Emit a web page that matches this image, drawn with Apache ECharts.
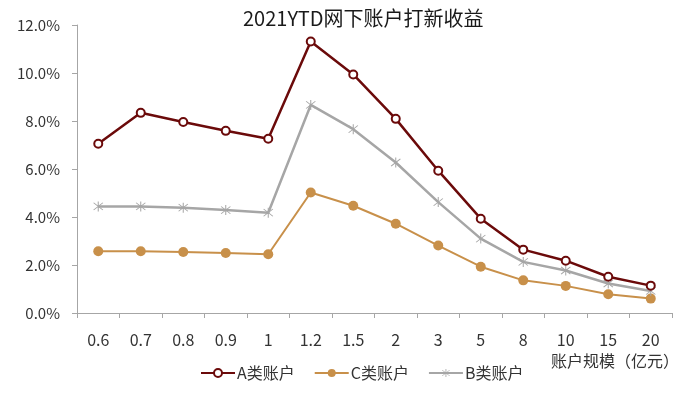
<!DOCTYPE html>
<html><head><meta charset="utf-8">
<script src="https://cdn.jsdelivr.net/npm/echarts@6/dist/echarts.min.js"></script>
<style>html,body{margin:0;padding:0;background:#fff}#c{width:700px;height:394px}</style>
</head><body><div id="c"></div>
<script>
const categories = ['0.6','0.7','0.8','0.9','1','1.2','1.5','2','3','5','8','10','15','20'];
const seriesA = [7.05, 8.34, 7.96, 7.59, 7.26, 11.31, 9.94, 8.09, 5.93, 3.93, 2.64, 2.18, 1.51, 1.14];
const seriesC = [2.57, 2.57, 2.54, 2.50, 2.45, 5.02, 4.47, 3.72, 2.81, 1.93, 1.36, 1.13, 0.78, 0.60];
const seriesB = [4.44, 4.44, 4.39, 4.29, 4.18, 8.67, 7.66, 6.27, 4.62, 3.10, 2.13, 1.77, 1.23, 0.92];
const seriesNames = ['A类账户', 'C类账户', 'B类账户'];
const titleText = '2021YTD网下账户打新收益';
const xAxisName = '账户规模（亿元）';

const FONT = '"Noto Sans CJK SC", "Noto Sans", sans-serif';
const asterisk = 'path://M9.2,0 L10.8,0 L10.8,20 L9.2,20 Z M2.2,3.3 L3.3,2.2 L17.8,16.7 L16.7,17.8 Z M16.7,2.2 L17.8,3.3 L3.3,17.8 L2.2,16.7 Z';

const chart = echarts.init(document.getElementById('c'), null, {renderer: 'canvas'});
chart.setOption({
  animation: false,
  backgroundColor: '#fff',
  textStyle: {fontFamily: FONT},
  title: {
    text: titleText, left: 238, top: 3,
    textStyle: {fontFamily: FONT, fontSize: 20, fontWeight: 'normal', color: '#1a1a1a'}
  },
  grid: {left: 77, right: 28, top: 25, bottom: 81, containLabel: false},
  legend: {
    data: seriesNames,
    bottom: 8, left: 195,
    itemWidth: 34, itemHeight: 10, itemGap: 19,
    textStyle: {fontFamily: FONT, fontSize: 16, color: '#333', padding: [0, 0, 0, -3]}
  },
  xAxis: {
    type: 'category', data: categories, boundaryGap: true,
    name: xAxisName, nameLocation: 'end', nameGap: 7,
    nameTextStyle: {fontFamily: FONT, fontSize: 16, color: '#333', align: 'right', verticalAlign: 'top', padding: [40, 0, 0, 0]},
    axisLine: {lineStyle: {color: '#a6a6a6', width: 1}},
    axisTick: {show: true, alignWithLabel: false, length: 5, lineStyle: {color: '#a6a6a6'}},
    axisLabel: {fontFamily: FONT, fontSize: 16, color: '#333', margin: 19}
  },
  yAxis: {
    type: 'value', min: 0, max: 12, interval: 2,
    axisLine: {show: true, lineStyle: {color: '#a6a6a6', width: 1}},
    axisTick: {show: true, length: 5, lineStyle: {color: '#a6a6a6'}},
    splitLine: {show: false},
    axisLabel: {fontFamily: FONT, fontSize: 15, color: '#333', margin: 17,
      formatter: v => v.toFixed(1) + '%'}
  },
  series: [
    {name: seriesNames[0], type: 'line', data: seriesA, z: 4,
     symbol: 'emptyCircle', symbolSize: 8,
     lineStyle: {color: '#6b0a0a', width: 2.5},
     itemStyle: {color: '#6b0a0a', borderColor: '#6b0a0a', borderWidth: 1.5}},
    {name: seriesNames[1], type: 'line', data: seriesC, z: 2,
     symbol: 'circle', symbolSize: 10,
     lineStyle: {color: '#c8904a', width: 2},
     itemStyle: {color: '#c8904a'}},
    {name: seriesNames[2], type: 'line', data: seriesB, z: 3,
     symbol: asterisk, symbolSize: 10,
     lineStyle: {color: '#a6a6a6', width: 2.5},
     itemStyle: {color: '#a6a6a6'}}
  ]
});
</script></body></html>
